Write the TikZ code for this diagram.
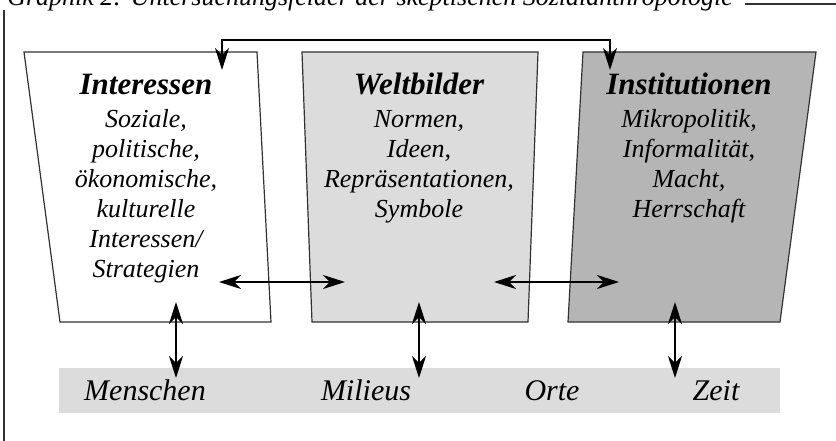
\documentclass[tikz,border=0pt]{standalone}
\usepackage{fontspec}
\setmainfont{Liberation Serif}
\usetikzlibrary{arrows.meta, positioning}
\tikzset{node distance=2cm, auto}
\definecolor{lightgrey}{RGB}{220,220,220}
\definecolor{midgrey}{RGB}{181,181,181}
\definecolor{edgegrey}{RGB}{50,50,50}
\tikzset{
  frame/.style={edgegrey, line width=1.1pt},
  boxline/.style={edgegrey, line width=1.2pt, line join=miter},
  link/.style={line width=2.3pt, {Stealth[length=22pt,width=14pt,inset=7pt]}-{Stealth[length=22pt,width=14pt,inset=7pt]}},
  downlink/.style={line width=2.3pt, -{Stealth[length=22pt,width=14pt,inset=7pt]}},
  head/.style={font=\fontsize{31}{36}\selectfont\bfseries\itshape, inner sep=0pt, anchor=base},
  body/.style={font=\fontsize{26}{30}\selectfont\itshape, inner sep=0pt, anchor=north, align=center},
  place/.style={font=\fontsize{30}{36}\selectfont\itshape, inner sep=0pt, anchor=base}
}

\begin{document}
\begin{tikzpicture}[x=1pt, y=-1pt]
\useasboundingbox (0,0) rectangle (836,441);

% title and frame
\node[anchor=base east, font=\fontsize{26}{30}\selectfont\itshape, inner sep=0pt] (title) at (733,6)
  {Graphik 2: Untersuchungsfelder der skeptischen Sozialanthropologie};
\coordinate (ruleA) at (745,4);
\coordinate (ruleB) at (836,4);
\coordinate (frameA) at (4,10);
\coordinate (frameB) at (4,441);
\draw[frame] (ruleA) -- (ruleB);
\draw[frame] (frameA) -- (frameB);

% boxes
\draw[boxline, fill=white] (24,52) -- (257,52) -- (271,322) -- (60,322) -- cycle;
\draw[boxline, fill=lightgrey] (302,52) -- (538,52) -- (528,322) -- (312,322) -- cycle;
\draw[boxline, fill=midgrey] (583,52) -- (816,52) -- (780,322) -- (568,322) -- cycle;

\node[head] (interessen) at (146,95) {Interessen};
\node[body] (interessenText) at (146,109) {Soziale,\\politische,\\ökonomische,\\kulturelle\\Interessen/\\Strategien};

\node[head] (weltbilder) at (419,95) {Weltbilder};
\node[body] (weltbilderText) at (419,110) {Normen,\\Ideen,\\Repräsentationen,\\Symbole};

\node[head] (institutionen) at (689,95) {Institutionen};
\node[body] (institutionenText) at (689,109) {Mikropolitik,\\Informalität,\\Macht,\\Herrschaft};

% band
\fill[lightgrey] (59,368) rectangle (780,413);
\node[place] (menschen) at (145,400) {Menschen};
\node[place] (milieus) at (366,400) {Milieus};
\node[place] (orte) at (552,400) {Orte};
\node[place] (zeit) at (716,400) {Zeit};

% connectors
\coordinate (intTop) at (222,70);
\coordinate (instTop) at (610,70);
\coordinate (bridge) at (416,40);
\draw[link] (intTop) |- (bridge) -| (instTop);

\coordinate (intRight) at (219,282);
\coordinate (weltLeft) at (345,282);
\coordinate (weltRight) at (494,282);
\coordinate (instLeft) at (619,282);
\draw[link] (intRight) -- (weltLeft);
\draw[link] (weltRight) -- (instLeft);

\foreach \x in {176,419,675}{
  \coordinate (up\x) at (\x,302);
  \coordinate (down\x) at (\x,378);
  \draw[link] (up\x) -- (down\x);
}
\end{tikzpicture}
\end{document}
